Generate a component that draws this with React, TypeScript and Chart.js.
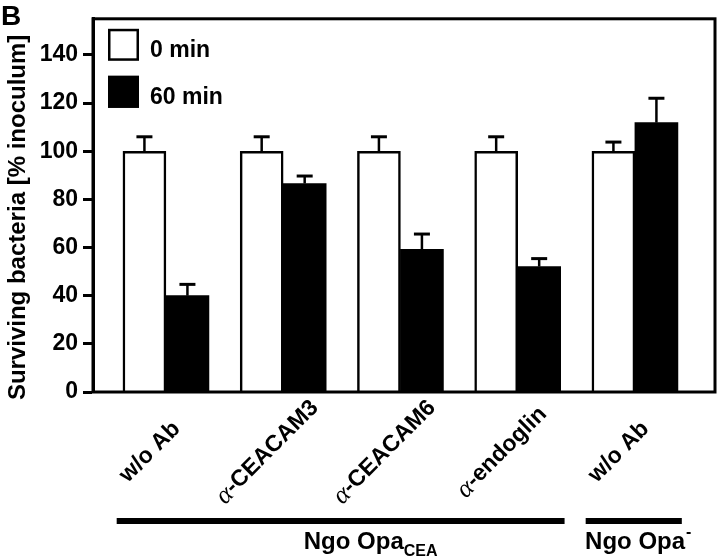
import React, { useEffect, useRef } from 'react';
import { Chart, registerables } from 'chart.js';
Chart.register(...registerables);

// ---- data ----
const categories = ['w/o Ab', 'α-CEACAM3', 'α-CEACAM6', 'α-endoglin', 'w/o Ab'];
const seriesNames = ['0 min', '60 min'];
const values0 = [100, 100, 100, 100, 100];
const errors0 = [6, 6, 6, 6, 3.8];
const values60 = [40, 86.6, 59.3, 52.1, 111.9];
const errors60 = [4.7, 3.1, 6.3, 3.3, 10.1];
const yTickValues = [0, 20, 40, 60, 80, 100, 120, 140];
const yTitle = 'Surviving bacteria [% inoculum]';
const panelLabel = 'B';
const groupNames = ['Ngo Opa', 'Ngo Opa'];
const groupSubs = ['CEA', ''];
const groupSups = ['', '-'];
const groupStarts = [0, 4];
const groupEnds = [3, 4];

const SANS = '"Liberation Sans", Arial, Helvetica, sans-serif';
const SERIF = '"Liberation Serif", "Times New Roman", serif';

const overlay = {
  id: 'overlay',
  afterDatasetsDraw(chart: any) {
    const { ctx, chartArea: a, scales } = chart;
    const xs = scales.x;
    const ys = scales.y;
    const vals = [values0, values60];
    const errs = [errors0, errors60];
    ctx.save();
    ctx.strokeStyle = '#000';
    ctx.fillStyle = '#000';
    ctx.lineCap = 'butt';

    // error bars (upper only)
    chart.data.datasets.forEach((_ds: any, di: number) => {
      const meta = chart.getDatasetMeta(di);
      meta.data.forEach((el: any, i: number) => {
        const x = el.x;
        const yTop = el.y;
        const yE = ys.getPixelForValue(vals[di][i] + errs[di][i]);
        ctx.lineWidth = 2.5;
        ctx.beginPath();
        ctx.moveTo(x, yTop);
        ctx.lineTo(x, yE);
        ctx.stroke();
        ctx.lineWidth = 3;
        ctx.beginPath();
        ctx.moveTo(x - 8, yE);
        ctx.lineTo(x + 8, yE);
        ctx.stroke();
      });
    });

    // frame
    ctx.lineWidth = 3;
    ctx.strokeRect(a.left, a.top, a.right - a.left, a.bottom - a.top);

    // legend
    const lx = a.left + 15;
    const ly = a.top + 10;
    const fills = ['#fff', '#000'];
    seriesNames.forEach((name, i) => {
      const by = ly + i * 47;
      ctx.fillStyle = fills[i];
      ctx.fillRect(lx, by, 31, 32);
      ctx.lineWidth = 2.5;
      ctx.strokeStyle = '#000';
      ctx.strokeRect(lx + 1.25, by + 1.25, 28.5, 29.5);
      ctx.fillStyle = '#000';
      ctx.font = `bold 23px ${SANS}`;
      ctx.textAlign = 'left';
      ctx.textBaseline = 'alphabetic';
      ctx.fillText(name, lx + 42, by + 28);
    });

    // y-axis title
    ctx.save();
    ctx.translate(25, (a.top + a.bottom) / 2 + 12);
    ctx.rotate(-Math.PI / 2);
    ctx.font = `bold 24px ${SANS}`;
    ctx.textAlign = 'center';
    ctx.textBaseline = 'alphabetic';
    ctx.fillText(yTitle, 0, 0);
    ctx.restore();

    // rotated category labels
    categories.forEach((lab, i) => {
      const cx = xs.getPixelForValue(i) - 16;
      const cy = a.bottom + 60;
      let pre = '';
      let rest = lab;
      if (lab.startsWith('α')) {
        pre = 'α';
        rest = lab.slice(1);
      }
      const preFont = `italic 26px ${SERIF}`;
      const restFont = `bold 23px ${SANS}`;
      ctx.font = preFont;
      const wPre = pre ? ctx.measureText(pre).width : 0;
      ctx.font = restFont;
      const wRest = ctx.measureText(rest).width;
      const total = wPre + wRest;
      ctx.save();
      ctx.translate(cx, cy);
      ctx.rotate(-Math.PI / 4);
      ctx.textAlign = 'left';
      ctx.textBaseline = 'middle';
      let x0 = -total / 2;
      if (pre) {
        ctx.font = preFont;
        ctx.fillText(pre, x0, 1);
        x0 += wPre;
      }
      ctx.font = restFont;
      ctx.fillText(rest, x0, 0);
      ctx.restore();
    });

    // group bars and labels
    const nudges = [30, 4];
    groupNames.forEach((g, gi) => {
      const x1 = xs.getPixelForValue(groupStarts[gi] - 0.42);
      const x2 = xs.getPixelForValue(groupEnds[gi] + 0.4);
      const y = a.bottom + 129;
      ctx.lineWidth = 6;
      ctx.beginPath();
      ctx.moveTo(x1, y);
      ctx.lineTo(x2, y);
      ctx.stroke();
      ctx.font = `bold 24px ${SANS}`;
      const wMain = ctx.measureText(g).width;
      ctx.font = `bold 16px ${SANS}`;
      const script = groupSubs[gi] || groupSups[gi];
      const wScript = script ? ctx.measureText(script).width : 0;
      const total = wMain + wScript;
      const start = (x1 + x2) / 2 + nudges[gi] - total / 2;
      const base = a.bottom + 157;
      ctx.textAlign = 'left';
      ctx.textBaseline = 'alphabetic';
      ctx.font = `bold 24px ${SANS}`;
      ctx.fillText(g, start, base);
      ctx.font = `bold 16px ${SANS}`;
      if (groupSubs[gi]) ctx.fillText(groupSubs[gi], start + wMain, base + 7);
      if (groupSups[gi]) ctx.fillText(groupSups[gi], start + wMain + 1, base - 12);
    });

    // panel label
    ctx.font = `bold 28px ${SANS}`;
    ctx.textAlign = 'left';
    ctx.textBaseline = 'alphabetic';
    ctx.fillText(panelLabel, 1, 25);

    ctx.restore();
  },
};

export default function App() {
  const ref = useRef<HTMLCanvasElement | null>(null);
  useEffect(() => {
    if (!ref.current) return;
    const chart = new Chart(ref.current, {
      type: 'bar',
      data: {
        datasets: [
          {
            label: seriesNames[0],
            data: values0.map((v, i) => ({ x: i, y: v })),
            backgroundColor: '#ffffff',
            borderColor: '#000000',
            borderWidth: 2.5,
            borderSkipped: 'start',
            barThickness: 43,
          },
          {
            label: seriesNames[1],
            data: values60.map((v, i) => ({ x: i, y: v })),
            backgroundColor: '#000000',
            borderWidth: 0,
            barThickness: 43,
          },
        ],
      },
      options: {
        animation: false,
        responsive: true,
        maintainAspectRatio: false,
        layout: { padding: { left: 0, right: 5, top: 9, bottom: 167 } },
        plugins: { legend: { display: false }, tooltip: { enabled: false } },
        scales: {
          x: {
            type: 'linear',
            display: false,
            min: -0.622,
            max: 4.683,
            offset: false,
          },
          y: {
            min: 0,
            max: 155,
            afterFit: (s: any) => {
              s.width = 93;
            },
            afterBuildTicks: (s: any) => {
              s.ticks = yTickValues.map((v) => ({ value: v }));
            },
            ticks: {
              color: '#000',
              font: { family: SANS, size: 23, weight: 'bold' },
              padding: 5,
            },
            grid: {
              display: true,
              drawOnChartArea: false,
              drawTicks: true,
              tickLength: 10,
              tickWidth: 3,
              tickColor: '#000',
            },
            border: { display: true, color: '#000', width: 3 },
            title: { display: false },
          },
        },
      },
      plugins: [overlay],
    } as any);
    return () => chart.destroy();
  }, []);
  return (
    <div style={{ position: 'absolute', left: 0, top: 0, width: 720, height: 559, background: '#fff' }}>
      <canvas ref={ref} />
    </div>
  );
}
